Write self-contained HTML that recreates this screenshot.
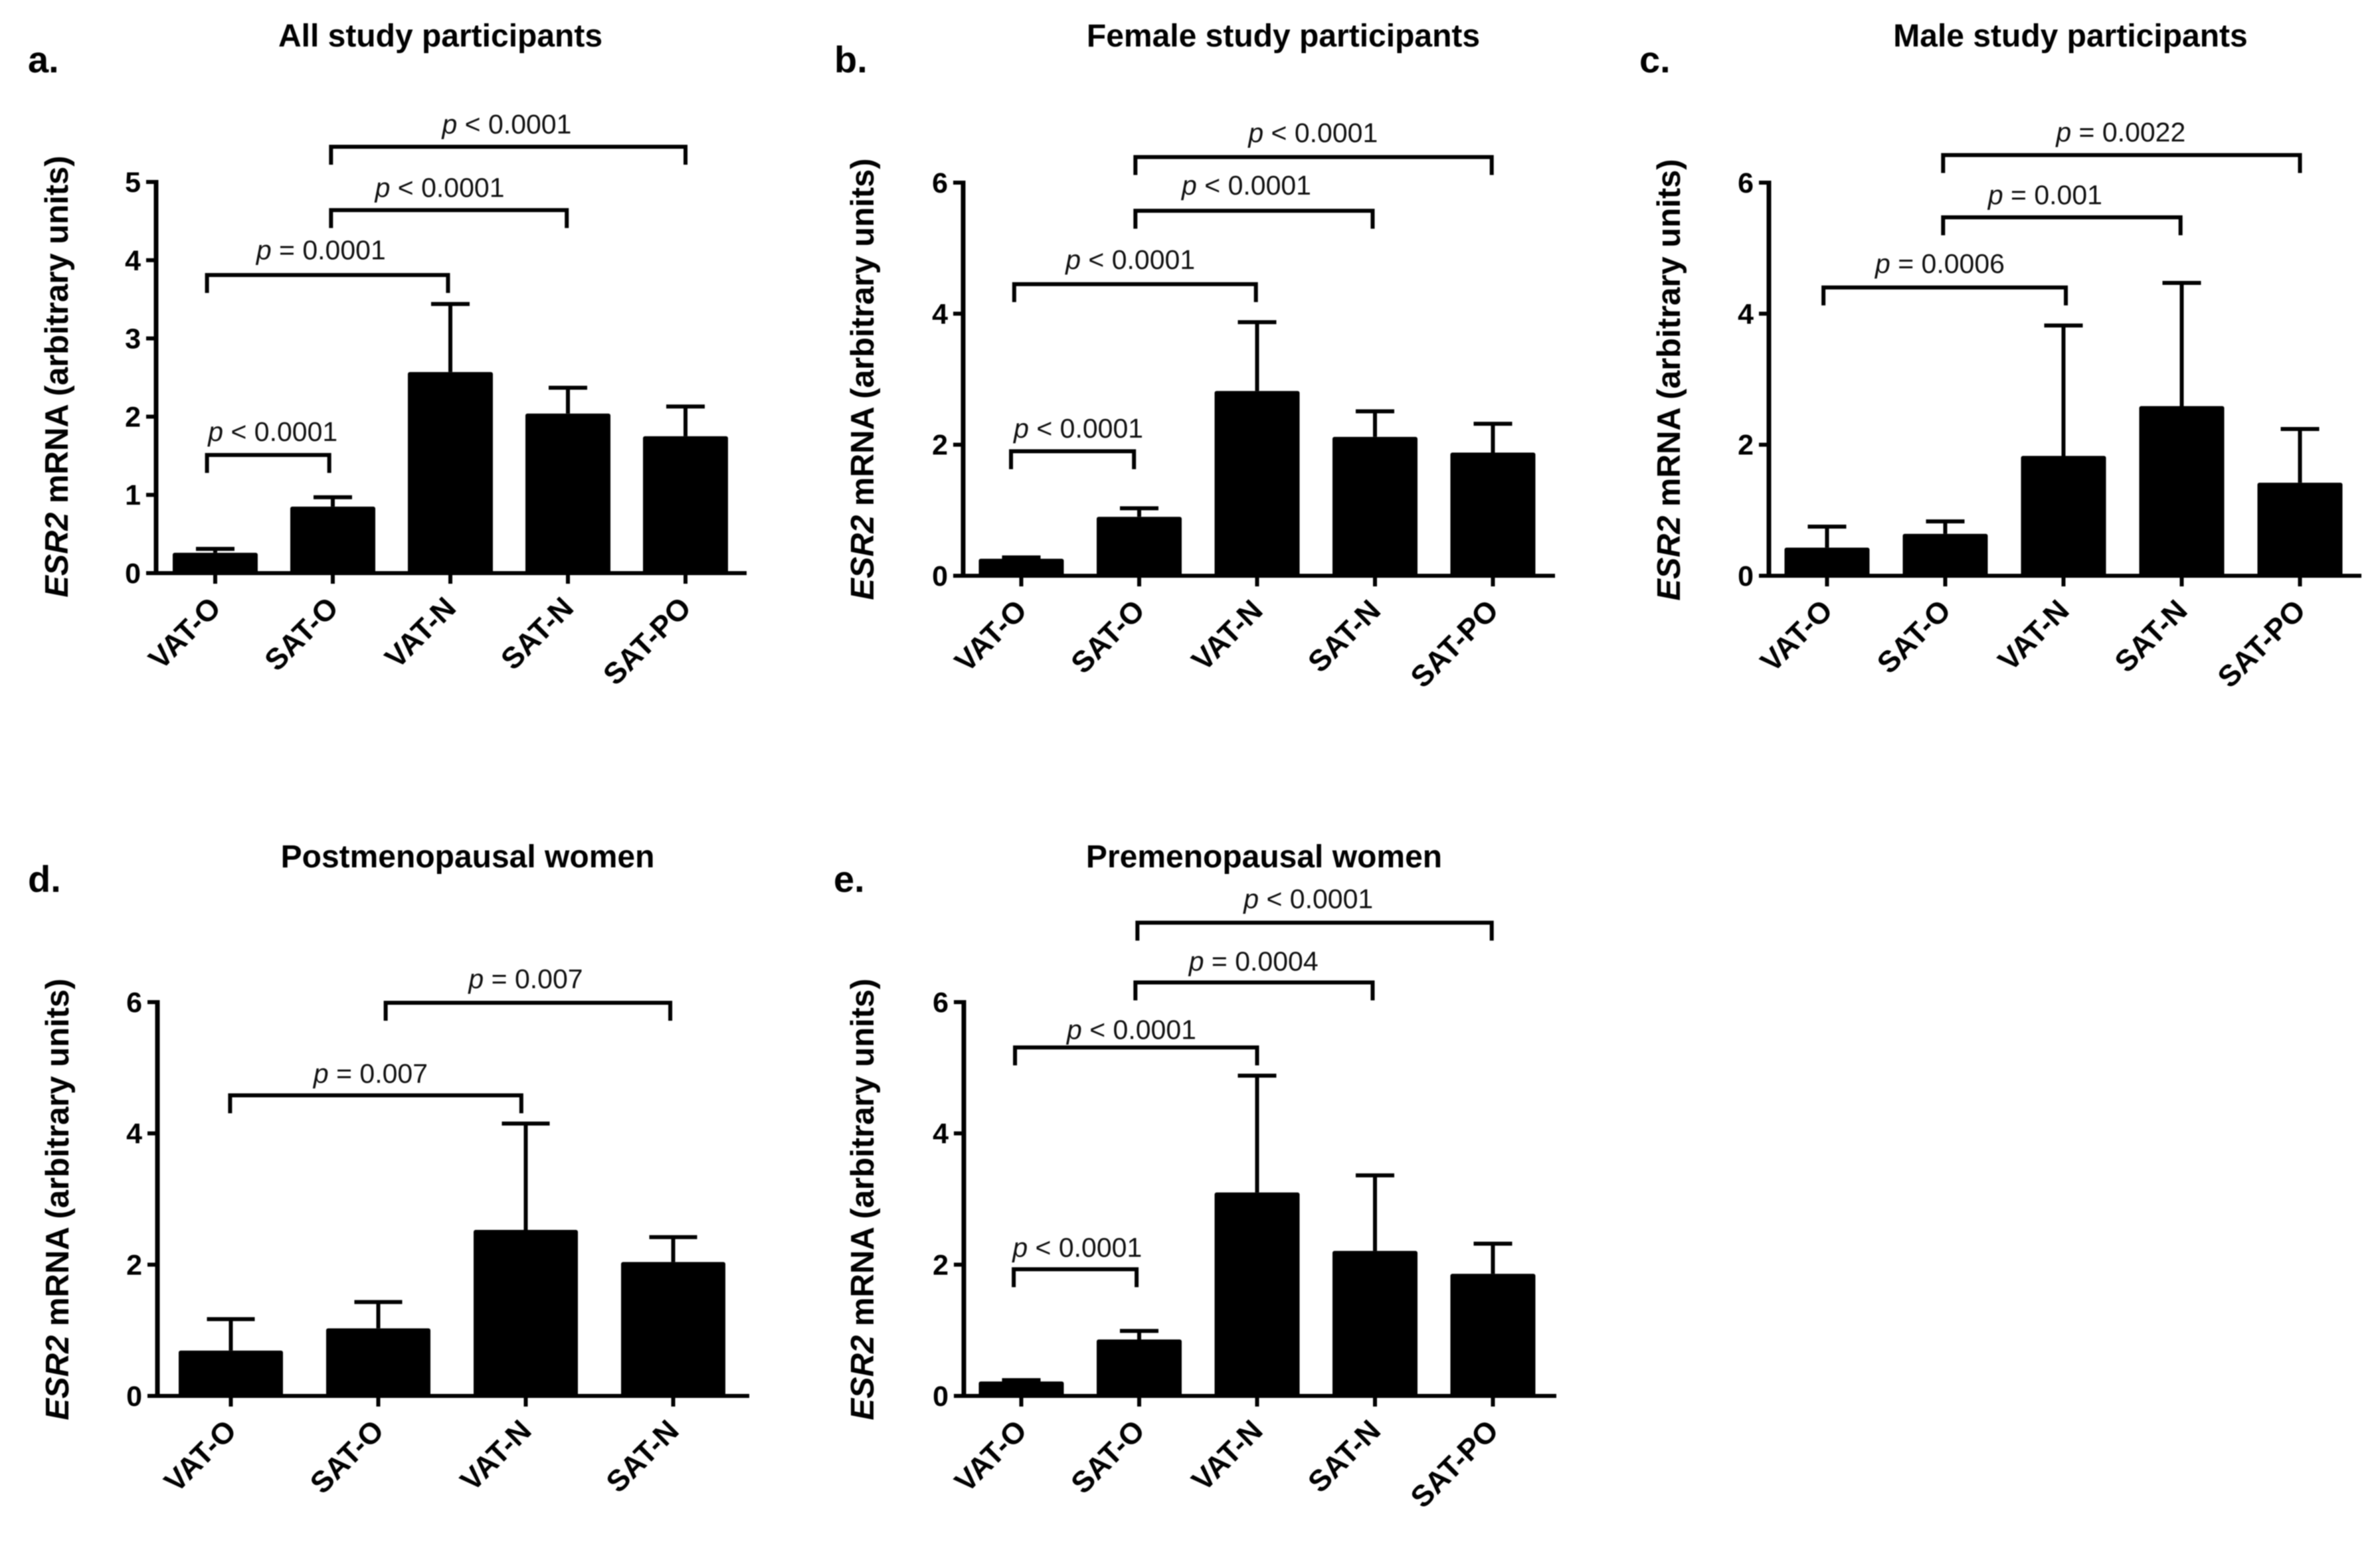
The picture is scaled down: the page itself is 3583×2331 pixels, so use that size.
<!DOCTYPE html>
<html lang="en">
<head>
<meta charset="utf-8">
<title>ESR2 mRNA expression by adipose depot</title>
<style>
html,body{margin:0;padding:0;background:#fff;}
svg{display:block;filter:blur(0.7px);}
text{font-family:"Liberation Sans",Arial,sans-serif;fill:#000;}
.title,.letter,.ylab,.ytick,.xtick{font-weight:bold;}
.title{font-size:48px;text-anchor:middle;}
.letter{font-size:56px;}
.ylab{font-size:49px;text-anchor:middle;}
.ytick{font-size:43px;text-anchor:end;}
.xtick{font-size:45px;text-anchor:end;}
.plabel{font-size:41px;text-anchor:middle;fill:#111;}
</style>
</head>
<body>
<svg id="fig" xmlns="http://www.w3.org/2000/svg" width="3583" height="2331" viewBox="0 0 3583 2331">
  <rect x="0" y="0" width="3583" height="2331" fill="#fff"/>

  <g id="panel-a">
    <text class="letter" x="42" y="109">a.</text>
    <text class="title" x="663" y="70">All study participants</text>
    <text class="ylab" transform="translate(102,567) rotate(-90)"><tspan font-style="italic">ESR2</tspan> mRNA (arbitrary units)</text>
  </g>
  <g id="panel-b">
    <text class="letter" x="1256" y="109">b.</text>
    <text class="title" x="1932" y="70">Female study participants</text>
    <text class="ylab" transform="translate(1315,571) rotate(-90)"><tspan font-style="italic">ESR2</tspan> mRNA (arbitrary units)</text>
  </g>
  <g id="panel-c">
    <text class="letter" x="2468" y="109">c.</text>
    <text class="title" x="3117" y="70">Male study participants</text>
    <text class="ylab" transform="translate(2529,572) rotate(-90)"><tspan font-style="italic">ESR2</tspan> mRNA (arbitrary units)</text>
  </g>
  <g id="panel-d">
    <text class="letter" x="42" y="1343">d.</text>
    <text class="title" x="704" y="1306">Postmenopausal women</text>
    <text class="ylab" transform="translate(103,1806) rotate(-90)"><tspan font-style="italic">ESR2</tspan> mRNA (arbitrary units)</text>
  </g>
  <g id="panel-e">
    <text class="letter" x="1255" y="1343">e.</text>
    <text class="title" x="1903" y="1306">Premenopausal women</text>
    <text class="ylab" transform="translate(1315,1806) rotate(-90)"><tspan font-style="italic">ESR2</tspan> mRNA (arbitrary units)</text>
  </g>
</svg>

<script>
// ---- data ----
const categoriesFive = ['VAT-O', 'SAT-O', 'VAT-N', 'SAT-N', 'SAT-PO'];
const categoriesFour = ['VAT-O', 'SAT-O', 'VAT-N', 'SAT-N'];
const ticksToFive = [0, 1, 2, 3, 4, 5];
const ticksToSix = [0, 2, 4, 6];

const aMeans = [0.26, 0.85, 2.57, 2.04, 1.75];
const aUpper = [0.31, 0.97, 3.44, 2.37, 2.13];
const bMeans = [0.26, 0.90, 2.82, 2.12, 1.88];
const bUpper = [0.28, 1.03, 3.87, 2.51, 2.32];
const cMeans = [0.43, 0.64, 1.83, 2.59, 1.42];
const cUpper = [0.75, 0.83, 3.82, 4.47, 2.24];
const dMeans = [0.69, 1.03, 2.53, 2.04];
const dUpper = [1.17, 1.43, 4.15, 2.42];
const eMeans = [0.22, 0.86, 3.10, 2.21, 1.86];
const eUpper = [0.24, 0.99, 4.88, 3.36, 2.32];

// Significance comparisons: text, category span, and level on the value axis.
const aPText = ['< 0.0001', '= 0.0001', '< 0.0001', '< 0.0001'];
const aFrom = [-0.07, -0.07, 0.985, 0.985];
const aTo = [0.97, 1.98, 2.99, 4.0];
const aLevel = [1.51, 3.81, 4.64, 5.45];
const aTextCat = [0.49, 0.90, 1.91, 2.48];
const aTextLevel = [1.69, 4.01, 4.81, 5.62];

const bPText = ['< 0.0001', '< 0.0001', '< 0.0001', '< 0.0001'];
const bFrom = [-0.087, -0.06, 0.968, 0.968];
const bTo = [0.956, 1.99, 2.98, 3.99];
const bLevel = [1.90, 4.45, 5.57, 6.39];
const bTextCat = [0.485, 0.925, 1.91, 2.475];
const bTextLevel = [2.11, 4.68, 5.82, 6.62];

const cPText = ['= 0.0006', '= 0.001', '= 0.0022'];
const cFrom = [-0.03, 0.982, 0.982];
const cTo = [2.02, 2.99, 4.0];
const cLevel = [4.40, 5.47, 6.42];
const cTextCat = [0.955, 1.845, 2.485];
const cTextLevel = [4.62, 5.67, 6.63];

const dPText = ['= 0.007', '= 0.007'];
const dFrom = [-0.005, 1.05];
const dTo = [1.97, 2.98];
const dLevel = [4.58, 5.99];
const dTextCat = [0.948, 2.0];
const dTextLevel = [4.77, 6.21];

const ePText = ['< 0.0001', '< 0.0001', '= 0.0004', '< 0.0001'];
const eFrom = [-0.064, -0.053, 0.968, 0.985];
const eTo = [0.978, 2.0, 2.98, 3.99];
const eLevel = [1.93, 5.31, 6.30, 7.21];
const eTextCat = [0.475, 0.935, 1.97, 2.435];
const eTextLevel = [2.12, 5.44, 6.48, 7.43];

// ---- layout, separate from the data ----
const plotA = {id:'a', axisX:235, y0:863, yTop:274, cat0:324, catStep:177,   barW:128, capW:58, xEnd:1124};
const plotB = {id:'b', axisX:1450, y0:867, yTop:275, cat0:1537.5, catStep:177.5, barW:128, capW:58, xEnd:2341};
const plotC = {id:'c', axisX:2663, y0:867, yTop:275, cat0:2750.5, catStep:178, barW:128, capW:58, xEnd:3555};
const plotD = {id:'d', axisX:237, y0:2102, yTop:1509, cat0:347.5, catStep:222, barW:157, capW:72, xEnd:1128};
const plotE = {id:'e', axisX:1451, y0:2102, yTop:1509, cat0:1537.5, catStep:177.5, barW:128, capW:58, xEnd:2343};

const SVG_NS = 'http://www.w3.org/2000/svg';

function shape(tag, attrs, parent) {
  const el = document.createElementNS(SVG_NS, tag);
  for (const k in attrs) el.setAttribute(k, attrs[k]);
  parent.appendChild(el);
  return el;
}

function drawPanel(plot, categories, ticks, means, upper, pText, from, to, level, textCat, textLevel) {
  const root = document.getElementById('panel-' + plot.id);
  const yMax = ticks[ticks.length - 1];
  const yPos = v => plot.y0 - v * (plot.y0 - plot.yTop) / yMax;
  const xPos = c => plot.cat0 + c * plot.catStep;

  // Bars and error bars
  means.forEach((m, i) => {
    const cx = xPos(i);
    const bar = shape('rect', {x: cx - plot.barW / 2, y: yPos(m), width: plot.barW, height: plot.y0 - yPos(m), rx: 3, fill: '#000'}, root);
    
    

    const stem = shape('line', {x1: cx, x2: cx, y1: yPos(m), y2: yPos(upper[i]), stroke: '#000', 'stroke-width': 6}, root);
    
    

    const cap = shape('line', {x1: cx - plot.capW / 2, x2: cx + plot.capW / 2, y1: yPos(upper[i]), y2: yPos(upper[i]), stroke: '#000', 'stroke-width': 6}, root);
    
    
  });

  // Y axis
  const yAxis = shape('line', {x1: plot.axisX, x2: plot.axisX, y1: plot.yTop - 3, y2: plot.y0 + 3, stroke: '#000', 'stroke-width': 7}, root);
  
  

  ticks.forEach(t => {
    const tick = shape('line', {x1: plot.axisX - 15, x2: plot.axisX, y1: yPos(t), y2: yPos(t), stroke: '#000', 'stroke-width': 6}, root);
    
    

    const label = shape('text', {class: 'ytick', x: plot.axisX - 23, y: yPos(t) + 15}, root);
    label.textContent = t;
    
    
  });

  // X axis
  const xAxis = shape('line', {x1: plot.axisX - 15, x2: plot.xEnd, y1: plot.y0, y2: plot.y0, stroke: '#000', 'stroke-width': 6}, root);
  
  

  categories.forEach((c, i) => {
    const cx = xPos(i);
    const tick = shape('line', {x1: cx, x2: cx, y1: plot.y0, y2: plot.y0 + 16, stroke: '#000', 'stroke-width': 6}, root);
    
    

    const label = shape('text', {class: 'xtick', transform: 'translate(' + (cx + 11) + ',' + (plot.y0 + 55) + ') rotate(-45)'}, root);
    label.textContent = c;
    
    
  });

  // Significance brackets
  pText.forEach((txt, i) => {
    const x1 = xPos(from[i]);
    const x2 = xPos(to[i]);
    const y = yPos(level[i]);
    const bracket = shape('polyline', {points: x1 + ',' + (y + 27) + ' ' + x1 + ',' + y + ' ' + x2 + ',' + y + ' ' + x2 + ',' + (y + 27), fill: 'none', stroke: '#000', 'stroke-width': 6}, root);
    
    

    const label = shape('text', {class: 'plabel', x: xPos(textCat[i]), y: yPos(textLevel[i])}, root);
    
    
    const pGlyph = shape('tspan', {'font-style': 'italic'}, label);
    pGlyph.textContent = 'p';
    label.appendChild(document.createTextNode(' ' + txt));
  });
}

drawPanel(plotA, categoriesFive, ticksToFive, aMeans, aUpper, aPText, aFrom, aTo, aLevel, aTextCat, aTextLevel);
drawPanel(plotB, categoriesFive, ticksToSix, bMeans, bUpper, bPText, bFrom, bTo, bLevel, bTextCat, bTextLevel);
drawPanel(plotC, categoriesFive, ticksToSix, cMeans, cUpper, cPText, cFrom, cTo, cLevel, cTextCat, cTextLevel);
drawPanel(plotD, categoriesFour, ticksToSix, dMeans, dUpper, dPText, dFrom, dTo, dLevel, dTextCat, dTextLevel);
drawPanel(plotE, categoriesFive, ticksToSix, eMeans, eUpper, ePText, eFrom, eTo, eLevel, eTextCat, eTextLevel);
</script>
</body>
</html>
